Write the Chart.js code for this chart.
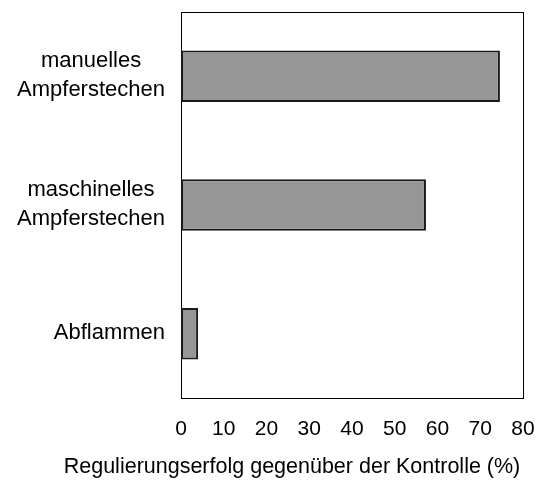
<!DOCTYPE html>
<html>
<head>
<meta charset="utf-8">
<script src="https://cdn.jsdelivr.net/npm/chart.js@4/dist/chart.umd.min.js"></script>
<style>
  html, body { margin: 0; padding: 0; background: #fff; overflow: hidden; }
  #wrap { width: 540px; height: 481px; }
</style>
</head>
<body>
<div id="wrap"><canvas id="chart"></canvas></div>
<script>
const categories = [
    ["manuelles", "Ampferstechen"],
    ["maschinelles", "Ampferstechen"],
    ["Abflammen"]
];
const erfolg = [74.6, 57.3, 4.0];
const xTicks = [0, 10, 20, 30, 40, 50, 60, 70, 80];
const xTitle = "Regulierungserfolg gegenüber der Kontrolle (%)";

const FONT = "'Liberation Sans', Arial, sans-serif";

// frame round the plot area, centred category labels and the wide axis title
const framePlugin = {
    id: "frame",
    beforeDatasetsDraw(chart) {
        const { ctx, chartArea: a } = chart;
        ctx.save();
        ctx.strokeStyle = "#000";
        ctx.lineWidth = 1;
        ctx.strokeRect(Math.round(a.left) + 0.5, Math.round(a.top) + 0.5,
            Math.round(a.right - a.left), Math.round(a.bottom - a.top));
        ctx.restore();
    },
    afterDraw(chart) {
        const { ctx } = chart;
        const yScale = chart.scales.y;
        ctx.save();
        ctx.font = "22px " + FONT;
        ctx.fillStyle = "#000";
        ctx.textAlign = "center";
        ctx.textBaseline = "middle";
        const right = 165, lh = 29;
        categories.forEach((lines, i) => {
            const cy = yScale.getPixelForValue(i);
            const w = Math.max(...lines.map(l => ctx.measureText(l).width));
            const cx = right - w / 2;
            const y0 = cy - (lines.length - 1) * lh / 2 - 1;
            lines.forEach((l, j) => ctx.fillText(l, cx, y0 + j * lh));
        });
        ctx.font = "21.5px " + FONT;
        ctx.fillText(xTitle, 292, 467);
        ctx.restore();
    }
};

new Chart(document.getElementById("chart"), {
    type: "bar",
    data: {
        labels: categories,
        datasets: [{
            data: erfolg,
            backgroundColor: "#969696",
            borderColor: "#1a1a1a",
            borderWidth: 2,
            borderSkipped: false,
            categoryPercentage: 0.8,
            barPercentage: 0.5
        }]
    },
    options: {
        indexAxis: "y",
        responsive: true,
        maintainAspectRatio: false,
        animation: false,
        layout: { padding: { top: 12, right: 17, left: 0, bottom: 0 } },
        plugins: {
            legend: { display: false },
            tooltip: { enabled: false }
        },
        scales: {
            x: {
                min: 0,
                max: 80,
                afterBuildTicks: s => { s.ticks = xTicks.map(v => ({ value: v })); },
                grid: { display: false, drawTicks: false },
                border: { display: false },
                ticks: {
                    color: "#000",
                    padding: 19,
                    maxRotation: 0,
                    font: { family: FONT, size: 21 }
                },
                afterFit: s => {
                    s.height = 83;
                    s.paddingLeft = 0;
                    s.paddingRight = 0;
                }
            },
            y: {
                grid: { display: false, drawTicks: false },
                border: { display: false },
                ticks: { display: false },
                afterFit: s => { s.width = 181; }
            }
        }
    },
    plugins: [framePlugin]
});
</script>
</body>
</html>
